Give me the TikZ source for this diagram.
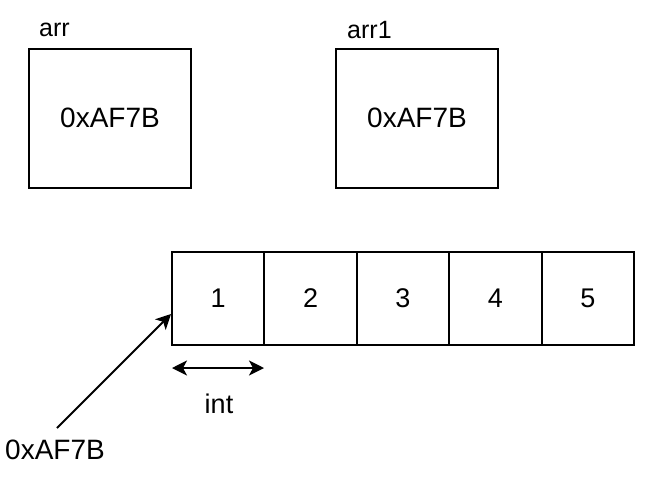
\documentclass[tikz,border=0pt]{standalone}
\usepackage{fontspec}
\setmainfont{Liberation Sans}
\usetikzlibrary{arrows.meta}
\begin{document}
\begin{tikzpicture}[x=1pt,y=-1pt,
  box/.style={draw,line width=2pt,minimum width=162pt,minimum height=139pt,inner sep=0pt,font=\fontsize{28}{32}\selectfont},
  cell/.style={draw,line width=2pt,minimum width=92.4pt,minimum height=93pt,inner sep=0pt,font=\fontsize{27}{30}\selectfont},
  lbl/.style={inner sep=0pt,font=\fontsize{27}{30}\selectfont},
  tip/.style={Stealth[width=15pt,length=15pt,inset=4pt]},
  arr/.style={line width=2pt,-{Stealth[width=15pt,length=15pt,inset=4pt]}},
  darr/.style={line width=2pt,{Stealth[width=15pt,length=15pt,inset=4pt]}-{Stealth[width=15pt,length=15pt,inset=4pt]}}]
\useasboundingbox (0,0) rectangle (664,480);
\node[box] (b1) at (110,118) {0xAF7B};
\node[box] (b2) at (417,118) {0xAF7B};
\node[lbl,anchor=west,font=\fontsize{25}{30}\selectfont] (l1) at (39,30) {arr};
\node[lbl,anchor=west,font=\fontsize{25}{30}\selectfont] (l2) at (347,30) {arr1};
\foreach \i in {1,...,5} {
  \node[cell] (c\i) at ({172+46.2+92.4*(\i-1)},298.5) {\i};
}
\coordinate (cl) at (172,368);
\coordinate (cr) at (264,368);
\draw[darr] (cl) -- (cr);
\node[lbl] (int) at (219,404) {int};
\node[lbl,font=\fontsize{28}{32}\selectfont] (addr) at (55,450) {0xAF7B};
\coordinate (from) at (57,428);
\coordinate (to) at (171,314);
\draw[arr] (from) -- (to);
\end{tikzpicture}
\end{document}
